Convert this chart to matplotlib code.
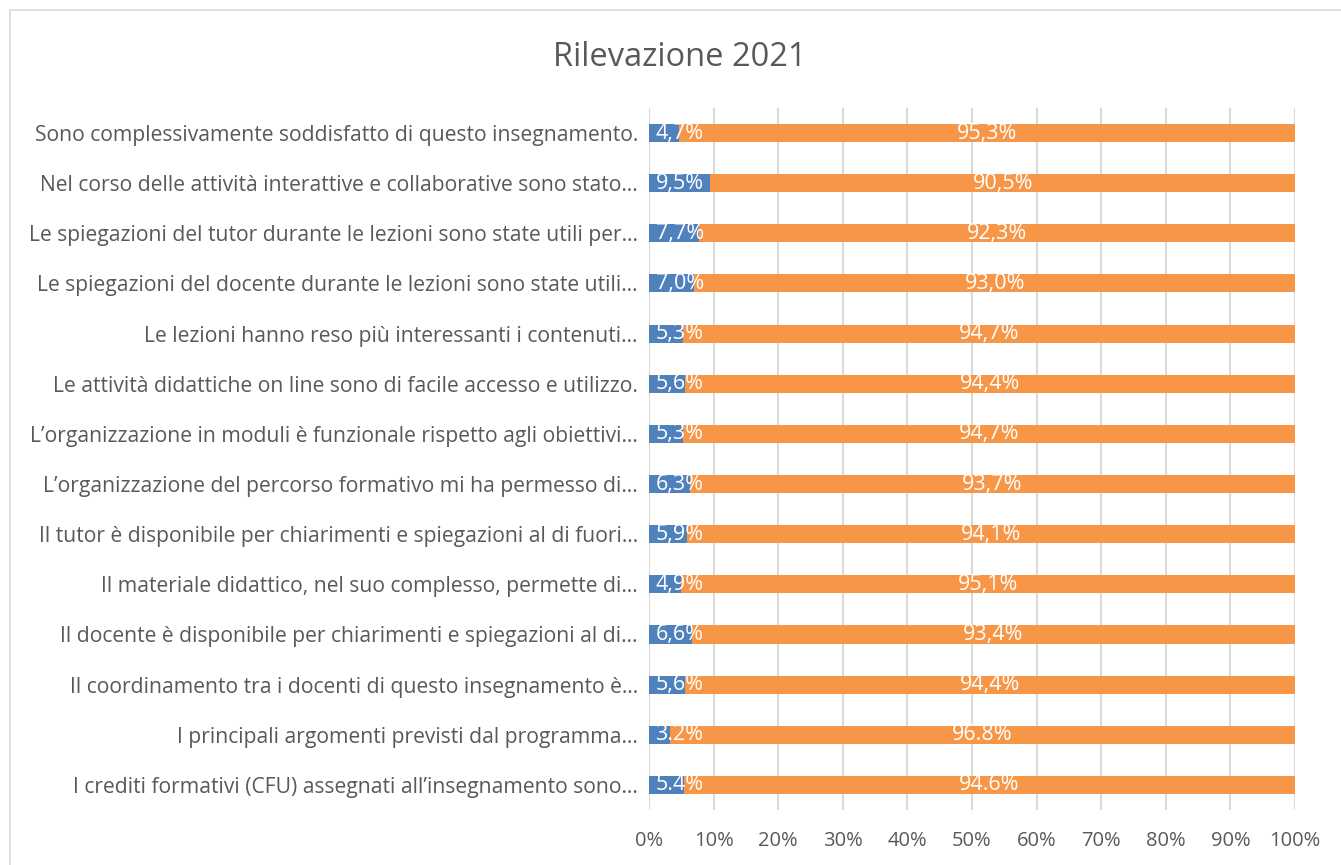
import matplotlib.pyplot as plt
import matplotlib.patches as patches
import numpy as np

plt.rcParams['font.family'] = ['Open Sans', 'DejaVu Sans']

# top to bottom as shown in the chart
categories = [
    "Sono complessivamente soddisfatto di questo insegnamento.",
    "Nel corso delle attività interattive e collaborative sono stato…",
    "Le spiegazioni del tutor durante le lezioni sono state utili per…",
    "Le spiegazioni del docente durante le lezioni sono state utili…",
    "Le lezioni hanno reso più interessanti i contenuti…",
    "Le attività didattiche on line sono di facile accesso e utilizzo.",
    "L’organizzazione in moduli è funzionale rispetto agli obiettivi…",
    "L’organizzazione del percorso formativo mi ha permesso di…",
    "Il tutor è disponibile per chiarimenti e spiegazioni al di fuori…",
    "Il materiale didattico, nel suo complesso, permette di…",
    "Il docente è disponibile per chiarimenti e spiegazioni al di…",
    "Il coordinamento tra i docenti di questo insegnamento è…",
    "I principali argomenti previsti dal programma…",
    "I crediti formativi (CFU) assegnati all’insegnamento sono…",
]
no_vals = [4.7, 9.5, 7.7, 7.0, 5.3, 5.6, 5.3, 6.3, 5.9, 4.9, 6.6, 5.6, 3.2, 5.4]
yes_vals = [95.3, 90.5, 92.3, 93.0, 94.7, 94.4, 94.7, 93.7, 94.1, 95.1, 93.4, 94.4, 96.8, 94.6]
no_labels = ["4,7%", "9,5%", "7,7%", "7,0%", "5,3%", "5,6%", "5,3%", "6,3%", "5,9%",
             "4,9%", "6,6%", "5,6%", "3.2%", "5.4%"]
yes_labels = ["95,3%", "90,5%", "92,3%", "93,0%", "94,7%", "94,4%", "94,7%", "93,7%",
              "94,1%", "95,1%", "93,4%", "94,4%", "96.8%", "94.6%"]

blue = '#4F81BD'
orange = '#F79646'
grey = '#595959'

fig = plt.figure(figsize=(13.41, 8.65), dpi=100)
ax = fig.add_axes([0.484, 0.0636, 0.4817, 0.8116])

y = np.arange(len(categories))
no = np.array(no_vals)
yes = np.array(yes_vals)
ax.barh(y, no, height=0.36, color=blue, zorder=3)
ax.barh(y, yes, left=no, height=0.36, color=orange, zorder=3)

for i in range(len(categories)):
    ax.text(1.0, y[i], no_labels[i], ha='left', va='center', color='white',
            fontsize=15.5, zorder=4)
    ax.text(no[i] + yes[i] / 2, y[i], yes_labels[i], ha='center', va='center',
            color='white', fontsize=15.5, zorder=4)

ax.set_xlim(0, 100)
ax.set_ylim(-0.5, len(categories) - 0.5)
ax.invert_yaxis()
ax.set_xticks(np.arange(0, 101, 10))
ax.set_xticklabels([f"{v}%" for v in range(0, 101, 10)])
ax.set_yticks(y)
ax.set_yticklabels(categories)
ax.tick_params(axis='x', length=0, pad=15, labelsize=14.5, labelcolor=grey)
ax.tick_params(axis='y', length=0, pad=8, labelsize=15.2, labelcolor=grey)
ax.grid(axis='x', color='#D9D9D9', linewidth=1.5, zorder=0)
for s in ax.spines.values():
    s.set_visible(False)

fig.text(0.507, 0.933, "Rilevazione 2021", ha='center', va='center',
         fontsize=23.5, color=grey)

border = patches.Rectangle((10 / 1341, -0.1), 1.2, 0.1 + 855 / 865,
                           transform=fig.transFigure, fill=False,
                           edgecolor='#D9D9D9', linewidth=1.2, clip_on=False)
fig.patches.append(border)

fig.savefig('out.png', dpi=100)
